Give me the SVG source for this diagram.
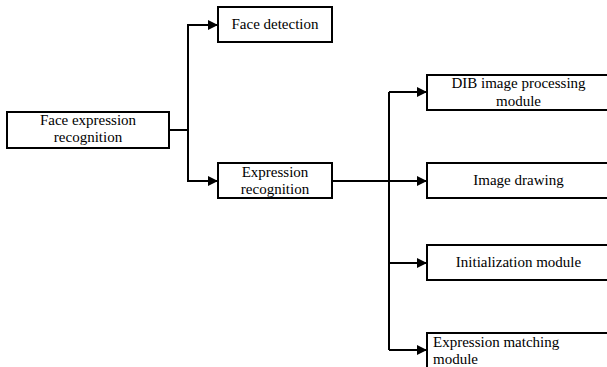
<svg xmlns="http://www.w3.org/2000/svg" width="607" height="367" viewBox="0 0 607 367">
  <style>
    .box { fill: #ffffff; stroke: #000000; stroke-width: 2; }
    text { font-family: 'Liberation Serif', 'DejaVu Serif', serif; font-size: 15px; fill: #000000; }
    .mid { text-anchor: middle; }
    .wire { fill: none; stroke: #000000; stroke-width: 2; }
  </style>
  <defs>
    <marker id="arrow" viewBox="0 0 10 10" refX="10" refY="5" markerWidth="10" markerHeight="10" markerUnits="userSpaceOnUse" orient="auto">
      <path d="M0,0 L10,5 L0,10 Z" fill="#000000"/>
    </marker>
  </defs>
  <rect width="607" height="367" fill="#ffffff"/>

  <g id="connectors">
    <path class="wire" d="M169,130 H188"/>
    <path class="wire" d="M188,130 V25 H218" marker-end="url(#arrow)"/>
    <path class="wire" d="M188,130 V181 H218" marker-end="url(#arrow)"/>
    <path class="wire" d="M332,181 H427" marker-end="url(#arrow)"/>
    <path class="wire" d="M389,92 V350"/>
    <path class="wire" d="M389,92 H427" marker-end="url(#arrow)"/>
    <path class="wire" d="M389,263 H427" marker-end="url(#arrow)"/>
    <path class="wire" d="M389,350 H427" marker-end="url(#arrow)"/>
  </g>

  <g id="face-expression-recognition" font-family="Liberation Serif, serif">
    <rect class="box" x="7" y="112" width="162" height="36"/>
    <text class="mid" x="88" y="125">Face expression</text>
    <text class="mid" x="88" y="142">recognition</text>
  </g>

  <g id="face-detection" font-family="Liberation Serif, serif">
    <rect class="box" x="218" y="7" width="114" height="35"/>
    <text class="mid" x="275" y="29">Face detection</text>
  </g>

  <g id="expression-recognition" font-family="Liberation Serif, serif">
    <rect class="box" x="218" y="163" width="114" height="35"/>
    <text class="mid" x="275" y="177">Expression</text>
    <text class="mid" x="275" y="194">recognition</text>
  </g>

  <g id="dib-image-processing" font-family="Liberation Serif, serif">
    <rect class="box" x="427" y="75" width="184" height="35"/>
    <text class="mid" x="518.5" y="88">DIB image processing</text>
    <text class="mid" x="518.5" y="106">module</text>
  </g>

  <g id="image-drawing" font-family="Liberation Serif, serif">
    <rect class="box" x="427" y="163" width="184" height="35"/>
    <text class="mid" x="518.5" y="185">Image drawing</text>
  </g>

  <g id="initialization-module" font-family="Liberation Serif, serif">
    <rect class="box" x="427" y="245" width="184" height="35"/>
    <text class="mid" x="518.5" y="267">Initialization module</text>
  </g>

  <g id="expression-matching" font-family="Liberation Serif, serif">
    <rect class="box" x="427" y="333" width="184" height="40"/>
    <text x="433" y="347">Expression matching</text>
    <text x="433" y="364">module</text>
  </g>
</svg>
